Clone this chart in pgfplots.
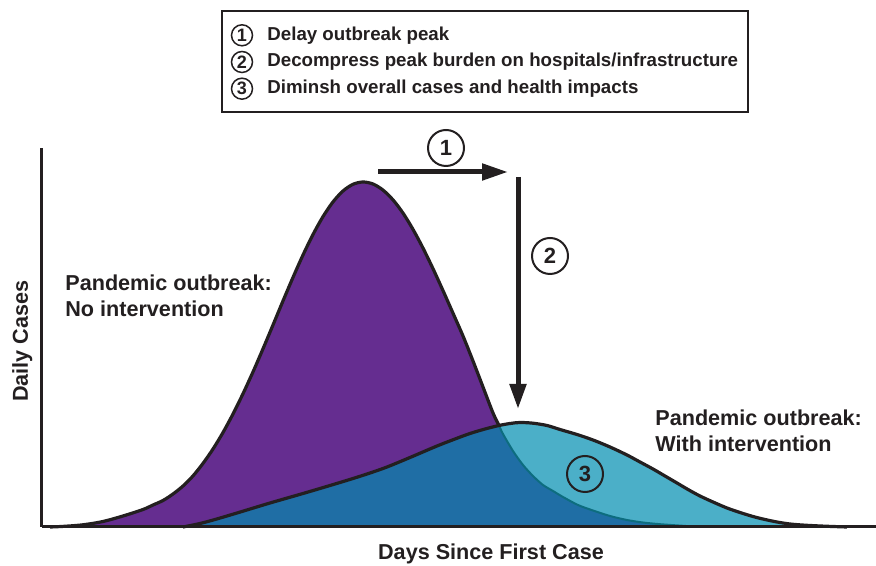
\documentclass[border=0pt]{standalone}
\usepackage{pgfplots}
\usepackage{pgfplotstable}
\pgfplotsset{compat=1.18}
\usepackage{fontspec}
\setmainfont{Liberation Sans}
\usetikzlibrary{arrows.meta}
\definecolor{txt}{RGB}{35,31,32}
\definecolor{cpurple}{RGB}{101,45,144}
\definecolor{cdark}{RGB}{31,110,165}
\definecolor{clight}{RGB}{75,175,200}
\definecolor{cteal}{RGB}{13,109,127}
\newcommand{\labfont}{\fontsize{10.8}{13}\selectfont\bfseries}
\newcommand{\legfont}{\fontsize{9.35}{11}\selectfont\bfseries}
\newcommand{\numfont}{\fontsize{11}{13}\selectfont\bfseries}
\newcommand{\snumfont}{\fontsize{9}{11}\selectfont\bfseries}

% No intervention curve
\pgfplotstableread{
x y
50 0
63 0.6
83 2.2
103 5.5
123 11
143 17.5
153 22
163 26.5
173 33
183 41
193 51.1
203 63.6
213 78
223 94.5
233 113
243 133.3
253 155.1
263 178.2
273 202
283 226.1
293 249.6
303 272
313 292.5
323 310.4
333 325.1
343 336
353 342.7
363 345
373 343
383 336.9
393 327.1
403 313.9
413 297.6
423 278.9
433 258.3
443 236.4
453 213.8
463 191
473 166
483 140
493 114
499 101.5
503 93
513 76
523 62
533 51
543 42
553 36
563 30
578 22
593 16.5
610 11
627 7
643 4.5
660 2.8
683 1.2
700 0
}\purpletab

% With intervention curve
\pgfplotstableread{
x y
183 0
200 3.5
215 7.5
237 14
270 24
303 33.5
330 41.5
353 48.5
370 54
387 60
410 69.5
437 81
455 88
470 93.5
485 98
499 101.5
510 103.5
520 104.5
533 103.8
547 101.5
560 97.5
577 92.5
593 87
610 80
627 72
640 65
653 58
665 51
677 44
688 37.5
700 31
713 25
727 19
740 14.5
753 10.5
765 7.5
777 5
790 3
805 1.8
825 0.8
847 0
}\bluetab

% Overlap (under both curves)
\pgfplotstableread{
x y
183 0
200 3.5
215 7.5
237 14
270 24
303 33.5
330 41.5
353 48.5
370 54
387 60
410 69.5
437 81
455 88
470 93.5
485 98
499 101.5
503 93
513 76
523 62
533 51
543 42
553 36
563 30
578 22
593 16.5
610 11
627 7
643 4.5
660 2.8
683 1.2
700 0
}\overlaptab

\begin{document}
\begin{tikzpicture}
\begin{axis}[
  x=0.5pt, y=0.5pt,
  xmin=42, xmax=876, ymin=0, ymax=379,
  axis x line=bottom, axis y line=left,
  axis line style={line width=1.5pt, -, color=txt},
  xtick=\empty, ytick=\empty,
  clip=false, axis on top=true,
]
\addplot[fill=cpurple, draw=none, smooth] table {\purpletab} \closedcycle;
\addplot[fill=clight, draw=none, smooth] table {\bluetab} \closedcycle;
\addplot[fill=cdark, draw=none, smooth] table {\overlaptab} \closedcycle;
\addplot[draw=cteal, line width=1pt, smooth, restrict x to domain=499:700] table {\purpletab};
\addplot[draw=txt, line width=1.6pt, smooth, line join=round, restrict x to domain=40:499] table {\purpletab};
\addplot[draw=txt, line width=1.6pt, smooth, line join=round] table {\bluetab};

% curve labels
\node[inner sep=0pt, text=txt, anchor=base west, font=\labfont] at (axis cs:65,236) {Pandemic outbreak:};
\node[inner sep=0pt, text=txt, anchor=base west, font=\labfont] at (axis cs:65,210) {No intervention};
\node[inner sep=0pt, text=txt, anchor=base west, font=\labfont] at (axis cs:655,101) {Pandemic outbreak:};
\node[inner sep=0pt, text=txt, anchor=base west, font=\labfont] at (axis cs:655,75) {With intervention};

% axis titles
\node[inner sep=0pt, text=txt, anchor=base, font=\labfont] at (axis cs:491,-33) {Days Since First Case};
\node[inner sep=0pt, text=txt, anchor=base, rotate=90, font=\labfont] at (axis cs:28,186) {Daily Cases};

% arrows
\draw[txt, line width=2.5pt, -{Triangle[length=13pt,width=8pt]}] (axis cs:378,355) -- (axis cs:508,355);
\draw[txt, line width=2.5pt, -{Triangle[length=12.5pt,width=8pt]}] (axis cs:518,350) -- (axis cs:518,118);

% big circled numbers
\node[circle, inner sep=0pt, text=txt, draw=txt, line width=1pt, minimum size=18pt, fill=white, font=\numfont] at (axis cs:446,379) {1};
\node[circle, inner sep=0pt, text=txt, draw=txt, line width=1pt, minimum size=18pt, fill=white, font=\numfont] at (axis cs:550,271) {2};
\node[circle, inner sep=0pt, text=txt, draw=txt, line width=1pt, minimum size=18pt, font=\numfont] at (axis cs:585,53) {3};

% legend box
\draw[txt, line width=1pt, fill=white] (axis cs:221.5,516) rectangle (axis cs:748,415);
\node[circle, inner sep=0pt, text=txt, draw=txt, line width=0.75pt, minimum size=10.5pt, font=\snumfont] at (axis cs:242,491.7) {1};
\node[circle, inner sep=0pt, text=txt, draw=txt, line width=0.75pt, minimum size=10.5pt, font=\snumfont] at (axis cs:242,465) {2};
\node[circle, inner sep=0pt, text=txt, draw=txt, line width=0.75pt, minimum size=10.5pt, font=\snumfont] at (axis cs:242,438.3) {3};
\node[inner sep=0pt, text=txt, anchor=base west, font=\legfont] at (axis cs:267,486.7) {Delay outbreak peak};
\node[inner sep=0pt, text=txt, anchor=base west, font=\legfont] at (axis cs:267,460) {Decompress peak burden on hospitals/infrastructure};
\node[inner sep=0pt, text=txt, anchor=base west, font=\legfont] at (axis cs:267,433.3) {Diminsh overall cases and health impacts};

\coordinate (BL) at (axis cs:0,-39);
\coordinate (TR) at (axis cs:876,527);
\end{axis}
\pgfresetboundingbox
\path[use as bounding box] (BL) rectangle (TR);
\end{tikzpicture}
\end{document}
